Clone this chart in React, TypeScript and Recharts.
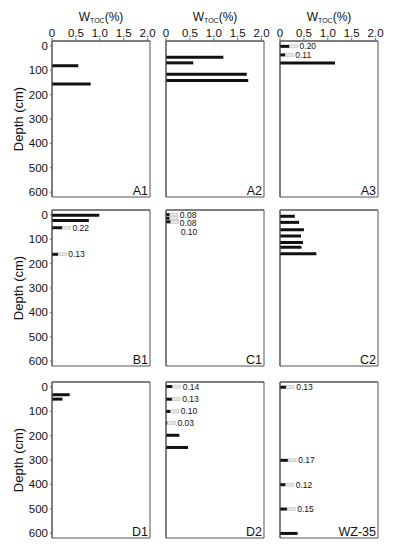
import React from "react";
import { BarChart, Bar, XAxis, YAxis, ReferenceArea, LabelList } from "recharts";

const FONT = "'Liberation Sans', Arial, sans-serif";

// axis ticks
const tocTicks = [0, 0.5, 1.0, 1.5, 2.0];
const depthTicks = [0, 100, 200, 300, 400, 500, 600];

// per-core samples: depth (cm), TOC (%), printed value label
const a1Depth = [80, 155];
const a1Toc = [0.55, 0.81];
const a1Labels = ["", ""];

const a2Depth = [48, 71, 118, 143];
const a2Toc = [1.2, 0.57, 1.69, 1.72];
const a2Labels = ["", "", "", ""];

const a3Depth = [0, 35, 68];
const a3Toc = [0.2, 0.11, 1.15];
const a3Labels = ["0.20", "0.11", ""];

const b1Depth = [2, 23, 53, 162];
const b1Toc = [0.99, 0.77, 0.22, 0.13];
const b1Labels = ["", "", "0.22", "0.13"];

const c1Depth = [0, 15, 30];
const c1Toc = [0.08, 0.08, 0.1];
const c1Labels = ["0.08", "0.08", "0.10"];

const c2Depth = [5, 30, 60, 86, 113, 132, 159];
const c2Toc = [0.31, 0.4, 0.5, 0.44, 0.48, 0.45, 0.76];
const c2Labels = ["", "", "", "", "", "", ""];

const d1Depth = [31, 49];
const d1Toc = [0.37, 0.22];
const d1Labels = ["", ""];

const d2Depth = [0, 52, 102, 150, 200, 250];
const d2Toc = [0.14, 0.13, 0.1, 0.03, 0.28, 0.46];
const d2Labels = ["0.14", "0.13", "0.10", "0.03", "", ""];

const wzDepth = [0, 300, 400, 500, 600];
const wzToc = [0.13, 0.17, 0.12, 0.15, 0.37];
const wzLabels = ["0.13", "0.17", "0.12", "0.15", ""];

type Row = { depth: number; toc: number; label: string };

function rows(depth: number[], toc: number[], labels: string[]): Row[] {
  return depth.map((d, i) => ({ depth: d, toc: toc[i], label: labels[i] }));
}

const panels = [
  { name: "A1", col: 0, row: 0, data: rows(a1Depth, a1Toc, a1Labels) },
  { name: "A2", col: 1, row: 0, data: rows(a2Depth, a2Toc, a2Labels) },
  { name: "A3", col: 2, row: 0, data: rows(a3Depth, a3Toc, a3Labels) },
  { name: "B1", col: 0, row: 1, data: rows(b1Depth, b1Toc, b1Labels) },
  { name: "C1", col: 1, row: 1, data: rows(c1Depth, c1Toc, c1Labels) },
  { name: "C2", col: 2, row: 1, data: rows(c2Depth, c2Toc, c2Labels) },
  { name: "D1", col: 0, row: 2, data: rows(d1Depth, d1Toc, d1Labels) },
  { name: "D2", col: 1, row: 2, data: rows(d2Depth, d2Toc, d2Labels) },
  { name: "WZ-35", col: 2, row: 2, data: rows(wzDepth, wzToc, wzLabels) },
];

// layout
const colLeft = [52, 166, 280];
const rowTop = [41, 210, 382];
const plotW = 98;
const plotH = 156;
const yAxisW = 44;
const rightPad = 10;
const depthDomain = [-20, 620];
const tocDomain = [0, 2.05];
const minLabelGap = 36; // cm

const renderTitle = (props: any) => {
  const vb = props.viewBox || {};
  const cx = vb.x + vb.width / 2;
  return (
    <text x={cx} y={vb.y + 21} textAnchor="middle" fontFamily={FONT} fontSize={12} fill="#111">
      <tspan>W</tspan>
      <tspan fontSize={7} dy={2}>TOC</tspan>
      <tspan dy={-2}>(%)</tspan>
    </text>
  );
};

const renderDepthLabel = (props: any) => {
  const vb = props.viewBox || {};
  const x = vb.x + 10;
  const y = vb.y + vb.height / 2;
  return (
    <text
      x={x}
      y={y}
      transform={`rotate(-90, ${x}, ${y})`}
      textAnchor="middle"
      dominantBaseline="central"
      fontFamily={FONT}
      fontSize={13}
      fill="#111"
    >
      Depth (cm)
    </text>
  );
};

function Panel({ name, col, row, data }: { name: string; col: number; row: number; data: Row[] }) {
  const axisH = row === 0 ? 41 : 14;
  const left = colLeft[col] - yAxisW;
  const top = rowTop[row] - axisH;
  const width = yAxisW + plotW + rightPad;
  const height = axisH + plotH + 3;

  // push crowded value labels apart
  const pxPerCm = plotH / (depthDomain[1] - depthDomain[0]);
  let prev = -Infinity;
  const shifts = data.map((d) => {
    if (!d.label) return 0;
    const adj = Math.max(d.depth, prev + minLabelGap);
    prev = adj;
    return (adj - d.depth) * pxPerCm;
  });

  const renderValue = (p: any) => {
    const { x, y, width: w, height: h, value, index } = p;
    if (!value) return null;
    const x0 = Number(x) + Number(w);
    const cy = Number(y) + Number(h) / 2 + (shifts[index] || 0);
    return (
      <g>
        <rect x={x0} y={Number(y)} width={8} height={Number(h)} fill="#e6e6e6" stroke="#bdbdbd" strokeWidth={0.6} />
        <text x={x0 + 10} y={cy} dominantBaseline="central" fontFamily={FONT} fontSize={8.5} fill="#111">
          {value}
        </text>
      </g>
    );
  };

  return (
    <div style={{ position: "absolute", left, top }}>
      <BarChart
        width={width}
        height={height}
        data={data}
        layout="vertical"
        margin={{ top: 0, right: rightPad, bottom: 3, left: 0 }}
      >
        <XAxis
          type="number"
          orientation="top"
          domain={tocDomain}
          ticks={tocTicks}
          interval={0}
          height={axisH}
          tickSize={3}
          tickMargin={1}
          axisLine={{ stroke: "#555" }}
          tickLine={{ stroke: "#666" }}
          tick={row === 0 ? { fontFamily: FONT, fontSize: 11.5, fill: "#111" } : false}
          tickFormatter={(v: number) => (v === 0 ? "0" : v.toFixed(1))}
          label={row === 0 ? { content: renderTitle } : undefined}
        />
        <YAxis
          type="number"
          dataKey="depth"
          domain={depthDomain}
          ticks={depthTicks}
          interval={0}
          width={yAxisW}
          tickSize={2}
          tickMargin={2}
          axisLine={{ stroke: "#555" }}
          tickLine={{ stroke: "#666" }}
          tick={col === 0 ? { fontFamily: FONT, fontSize: 11.5, fill: "#111" } : false}
          label={col === 0 ? { content: renderDepthLabel } : undefined}
        />
        <ReferenceArea
          x1={tocDomain[0]}
          x2={tocDomain[1]}
          y1={depthDomain[0]}
          y2={depthDomain[1]}
          fill="none"
          stroke="#555"
          strokeWidth={1}
          label={{
            value: name,
            position: "insideBottomRight",
            offset: 2,
            fontFamily: FONT,
            fontSize: 12.5,
            fill: "#111",
          }}
        />
        <Bar dataKey="toc" fill="#111" barSize={3} isAnimationActive={false}>
          <LabelList dataKey="label" content={renderValue} />
        </Bar>
      </BarChart>
    </div>
  );
}

export default function App() {
  return (
    <div style={{ position: "absolute", left: 0, top: 0, width: 394, height: 550, background: "#fff" }}>
      {panels.map((p) => (
        <Panel key={p.name} {...p} />
      ))}
    </div>
  );
}
